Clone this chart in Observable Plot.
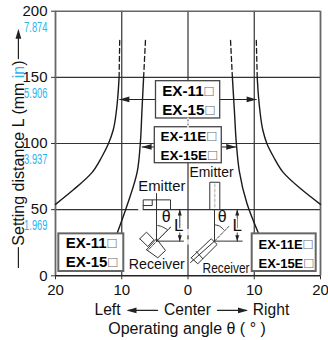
<!DOCTYPE html>
<html><head><meta charset="utf-8">
<style>html,body{margin:0;padding:0;background:#fff}svg{display:block}</style>
<script src="https://cdn.jsdelivr.net/npm/d3@7"></script>
<script src="https://cdn.jsdelivr.net/npm/@observablehq/plot@0.6"></script>
</head><body><div id="chart"></div>
<script>
// Curves: operating angle (deg) against setting distance L (mm)
const outerDistance = [150, 135, 125, 110, 100, 90, 78, 65, 54];
const outerLeft = [-10.4, -10.6, -10.8, -11.3, -12, -13, -14.5, -17.3, -20];
const outerRight = [10.45, 10.65, 10.85, 11.3, 11.9, 12.9, 14.4, 17.2, 20];
const innerDistance = [150, 125, 100, 79, 54.6, 32];
const innerLeft = [-6.7, -6.95, -7.2, -7.65, -9.1, -10.7];
const innerRight = [6.7, 7.0, 7.3, 7.75, 8.9, 10.65];
const dashDistance = [150, 180];
const dashOuterLeft = [-10.4, -10.3];
const dashOuterRight = [10.45, 10.3];
const dashInnerLeft = [-6.7, -6.4];
const dashInnerRight = [6.7, 6.4];
// Axis ticks and labels
const angleTicks = [-20, -10, 0, 10, 20];
const distanceTicks = [0, 50, 100, 150, 200];
const inchValues = [200, 150, 100, 50];
const inchLabels = ["7.874", "5.906", "3.937", "1.969"];
// Model labels
const modelGroups = [
  {x1: -4.83, x2: 4.86, y1: 118.9, y2: 147.1, s: "#444", w: 1.3},
  {x1: -5.01, x2: 5.1, y1: 85.1, y2: 112.3, s: "#444", w: 1.3},
  {x1: -19.5, x2: -9.69, y1: 3.25, y2: 31.7, s: "#666", w: 2},
  {x1: 9.69, x2: 19.35, y1: 3.25, y2: 31.7, s: "#666", w: 2}
];
const modelLabels = [
  {x: -3.89, y: 139.5, t: "EX-11□", f: 15.2},
  {x: -3.89, y: 125.5, t: "EX-15□", f: 15.2},
  {x: -4.15, y: 104.8, t: "EX-11E□", f: 13.5},
  {x: -4.15, y: 90.9, t: "EX-15E□", f: 13.5},
  {x: -18.47, y: 24.6, t: "EX-11□", f: 15},
  {x: -18.47, y: 10.3, t: "EX-15□", f: 15},
  {x: 10.64, y: 23.7, t: "EX-11E□", f: 13},
  {x: 10.64, y: 9.1, t: "EX-15E□", f: 13}
];
// Emitter / receiver sketches, in chart units
const sketchLines = [
  [[-6.76,50.1],[-2.64,50.1],[-2.64,57.4],[-6.76,57.4],[-6.76,50.1]],
  [[-6.76,53.1],[-5.4,53.1],[-5.4,57]],
  [[-4.75,62.2],[-4.75,26.2]],
  [[-4.75,26.2],[-0.68,26.2]],
  [[-7.28,28],[-6.26,33],[-5.15,27.2],[-6.06,22.1],[-7.28,28]],
  [[-6.26,19.65],[-4.75,28],[-3.4,19.1],[-4.56,13.6],[-6.26,19.65]],
  [[3.29,50.1],[4.8,50.1],[4.8,70.7],[3.29,70.7],[3.29,50.1]],
  [[4,50.1],[4,26.2]],
  [[4,26.2],[8.18,26.2]],
  [[0.48,13.6],[3.5,28],[4.4,23.7],[1.48,9.1],[0.48,13.6]],
  [[1.24,18.4],[2.24,12.9]],
  [[4,26.2],[0.38,10]]
];
const sketchDashed = [
  [[-4.75,26.2],[-2.64,36.7]],
  [[-2.64,36.7],[-6.1,19]],
  [[4,26.2],[6.16,37.3]]
];
const sketchArcs = [
  [[-4.56,38],[-4,37.3],[-3.14,35]],
  [[4.1,38.5],[4.75,37.6],[5.4,34.8]]
];
const dimensionX = [-1.24, 7.43];
const captions = [
  {x: -3.95, y: 67.7, t: "Emitter", f: 15},
  {x: 3.55, y: 78, t: "Emitter", f: 14.2},
  {x: -4.71, y: 8.5, t: "Receiver", f: 14.2},
  {x: 5.74, y: 5.7, t: "Receiver", f: 14}
];
const thetaMarks = [{x: -3.29, y: 44.3, t: "θ"}, {x: 5.16, y: 44.3, t: "θ"}];
const lMarks = [{x: -1.39, y: 38, t: "L"}, {x: 7.43, y: 38, t: "L"}];
const yTitle = "Setting distance L (mm in)";

const zip = (xs, ys) => xs.map((x, i) => [x, ys[i]]);
const head = (len, half) => ({draw(c) { c.moveTo(0, 0); c.lineTo(-half, len); c.lineTo(half, len); c.closePath(); }});
const bigHead = head(10, 2.9), smallHead = head(6, 2);
const dark = "#333", grey = "#666";
const line = (d, o = {}) => Plot.line(d, {x: "0", y: "1", stroke: "#222", strokeWidth: 1.1, ...o});
const arrow = (x, y, rotate, symbol = bigHead) => Plot.dot([[x, y]], {x: "0", y: "1", symbol, rotate, fill: "#222", stroke: null});
const curve = (xs, ys) => line(zip(xs, ys), {curve: "monotone-y", strokeWidth: 1.4, stroke: "#1a1a1a"});
const dash = (xs) => line(zip(xs, dashDistance), {strokeDasharray: "5 3", strokeWidth: 1.3, stroke: "#1a1a1a"});

const svg = Plot.plot({
  width: 328, height: 340,
  marginLeft: 55, marginRight: 8, marginTop: 10.7, marginBottom: 64.7,
  style: {fontFamily: "Liberation Sans, Arial, sans-serif", background: "#fff", color: "#111"},
  x: {domain: [-20, 20], label: null},
  y: {domain: [0, 200], label: null},
  marks: [
    Plot.ruleY([50, 100, 150], {stroke: dark, strokeWidth: 1.2}),
    Plot.ruleX([-10, 0, 10], {stroke: dark, strokeWidth: 1.2}),
    Plot.ruleY([200], {stroke: grey, strokeWidth: 1.4}),
    Plot.ruleX([-20, 20], {stroke: grey, strokeWidth: 1.8}),
    Plot.ruleY([0], {stroke: "#222", strokeWidth: 1.4}),
    Plot.axisX({ticks: angleTicks, tickFormat: Math.abs, tickSize: 4, tickPadding: 5, fontSize: 15, label: null, stroke: dark}),
    Plot.axisY({ticks: distanceTicks, tickSize: 4, tickPadding: 4, fontSize: 15, label: null, stroke: dark}),
    Plot.text(inchValues, {x: () => -20, y: d => d, text: (d, i) => inchLabels[i], dx: -8, dy: 16, textAnchor: "end", fontSize: 15, fill: "#2ab4ee"}),
    curve(outerLeft, outerDistance), curve(outerRight, outerDistance),
    curve(innerLeft, innerDistance), curve(innerRight, innerDistance),
    dash(dashOuterLeft), dash(dashOuterRight), dash(dashInnerLeft), dash(dashInnerRight),
    // leader arrows
    line([[-4.83,133.3],[-10.3,133.3]]), arrow(-10.36,133.3,-90),
    line([[4.86,133.3],[10.3,133.3]]), arrow(10.36,133.3,90),
    line([[-5.01,97.4],[-6.9,97.4]]), arrow(-7.0,97.4,-90),
    line([[5.1,97.4],[7.2,97.4]]), arrow(7.28,97.4,90),
    // model boxes
    ...modelGroups.map(b => Plot.rect([b], {x1: "x1", x2: "x2", y1: "y1", y2: "y2", fill: "#fff", stroke: b.s, strokeWidth: b.w})),
    ...modelLabels.map(m => Plot.text([m], {x: "x", y: "y", text: "t", textAnchor: "start", fontWeight: "bold", fontSize: m.f, fill: "#000"})),
    // gaps in the grid around the sketches
    line([[0,112.3],[0,119]], {stroke: "#fff", strokeDasharray: "2 2", strokeWidth: 1.6}),
    line([[0,31],[0,35]], {stroke: "#fff", strokeWidth: 1.6}),
    line([[0,24],[0,27]], {stroke: "#fff", strokeWidth: 1.6}),
    line([[-7.4,50],[-6.9,50]], {stroke: "#fff", strokeWidth: 2}),
    // sketches
    ...sketchLines.map(l => line(l, {strokeWidth: 1, stroke: "#333"})),
    ...sketchDashed.map(l => line(l, {strokeWidth: 0.9, strokeDasharray: "3 1.5", stroke: "#333"})),
    ...sketchArcs.map(l => line(l, {strokeWidth: 1, curve: "catmull-rom", stroke: "#333"})),
    line([[4.05,52],[4.05,70]], {stroke: "#aaa", strokeWidth: 1, strokeDasharray: "3 2"}),
    ...dimensionX.map(x => line([[x,50.1],[x,26.2]], {strokeWidth: 0.9})),
    ...dimensionX.flatMap(x => [arrow(x,50.1,0,smallHead), arrow(x,26.2,180,smallHead)]),
    Plot.text(thetaMarks, {x: "x", y: "y", text: "t", fontSize: 16, fill: "#111"}),
    Plot.text(lMarks, {x: "x", y: "y", text: "t", fontSize: 17, fill: "#111", stroke: "#fff", strokeWidth: 3, paintOrder: "stroke"}),
    ...captions.map(c => Plot.text([c], {x: "x", y: "y", text: "t", fontSize: c.f, fill: "#111"})),
    // y title
    Plot.text([yTitle], {x: () => -25.58, y: () => 92.8, text: d => d, rotate: -90, fontSize: 16, fill: "#111"}),
    line([[-25.6,21.4],[-25.6,6.3]], {strokeWidth: 1.2}),
    line([[-25.6,164.2],[-25.6,180]], {strokeWidth: 1.2}),
    arrow(-25.6,186.7,0),
    // x titles
    Plot.text(["Left"], {x: () => -12.15, y: () => -26.2, text: d => d, fontSize: 15.6, fill: "#111"}),
    Plot.text(["Center"], {x: () => -0.08, y: () => -26.2, text: d => d, fontSize: 15.6, fill: "#111"}),
    Plot.text(["Right"], {x: () => 12.53, y: () => -26.2, text: d => d, fontSize: 15.6, fill: "#111"}),
    line([[-4.6,-26.2],[-9,-26.2]], {strokeWidth: 1.2}), arrow(-9.28,-26.2,-90),
    line([[4.45,-26.2],[8.8,-26.2]], {strokeWidth: 1.2}), arrow(9.06,-26.2,90),
    Plot.text(["Operating angle θ ( ° )"], {x: () => -0.15, y: () => -39.8, text: d => d, fontSize: 16, fill: "#111"})
  ]
});
document.getElementById("chart").append(svg);

// Condensed labels, thin option boxes and the blue unit, found by their text
const captionWidths = {Emitter: [47, 44], Receiver: [56, 47]};
d3.select(svg).selectAll("text").each(function () {
  const s = this.textContent;
  if (inchLabels.includes(s)) {
    this.setAttribute("textLength", 23.4); this.setAttribute("lengthAdjust", "spacingAndGlyphs");
  } else if (captionWidths[s]) {
    this.setAttribute("textLength", captionWidths[s].shift()); this.setAttribute("lengthAdjust", "spacingAndGlyphs");
  } else if (s.endsWith("□")) {
    this.textContent = s.slice(0, -1);
    d3.select(this).append("tspan").attr("font-weight", "normal").attr("font-size", 15).attr("fill", "#666").attr("dx", 1).text("□");
  } else if (s === yTitle) {
    this.textContent = "Setting distance L (mm ";
    d3.select(this).append("tspan").attr("fill", "#2ab4ee").text("in");
    d3.select(this).append("tspan").text(")");
  }
});
</script></body></html>
